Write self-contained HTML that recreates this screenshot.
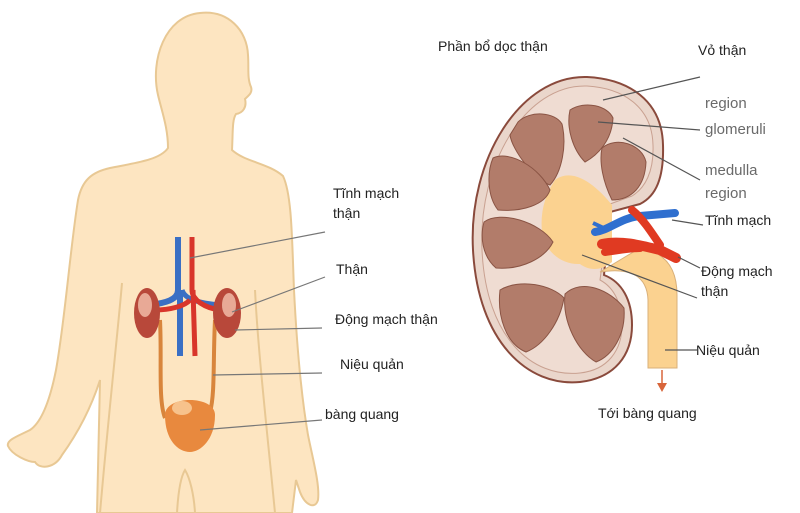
<!DOCTYPE html>
<html><head><meta charset="utf-8"><style>
html,body{margin:0;padding:0;background:#fff}
svg{display:block}
text{font-family:"Liberation Sans",sans-serif;font-size:14px;fill:#222}
.g{fill:#6a6a6a;font-size:15px}
</style></head><body>
<svg width="800" height="513" viewBox="0 0 800 513" xmlns="http://www.w3.org/2000/svg">
<rect width="800" height="513" fill="#fff"/>
<!-- body -->
<path d="M200,13 C228,10 247,30 248,55 C249,68 247,78 251,87 C253,93 248,96 245,99 C247,107 243,113 236,114 C232,120 233,132 232,150 C245,162 268,163 283,176 C292,195 292,240 294,290 C297,350 302,400 308,435 C313,460 320,485 318,500 C315,510 305,505 300,492 L296,480 L292,513 L97,513 L100,380 C92,405 80,430 62,455 C55,468 40,470 35,462 C28,462 12,455 8,446 C6,440 18,436 30,430 C42,422 50,400 56,370 C65,320 70,250 78,200 C82,180 92,172 110,168 C135,163 160,160 168,148 C168,128 162,112 158,95 C150,60 165,16 200,13 Z" fill="#fde5c1" stroke="#e8c894" stroke-width="2"/>
<path d="M122,283 C118,330 108,420 100,513 M255,290 C258,350 266,420 275,513" stroke="#e8c894" stroke-width="2" fill="none"/>
<path d="M177,513 C178,495 180,478 185,470 C190,478 194,495 195,513" stroke="#e8c894" stroke-width="2" fill="none"/>
<!-- vessels left -->
<path d="M178,237 L178,290 C178,300 165,303 150,305" stroke="#3a6fc4" stroke-width="6" fill="none"/>
<path d="M182,290 C185,300 200,303 220,305" stroke="#3a6fc4" stroke-width="5" fill="none"/>
<path d="M180,290 L180,356" stroke="#3a6fc4" stroke-width="6" fill="none"/>
<path d="M192,237 L192,290 C192,300 205,308 220,310 M190,300 C185,306 170,310 155,310 M193,290 L195,356" stroke="#d8352b" stroke-width="5" fill="none"/>
<path d="M160,320 C162,360 158,400 165,418 M215,320 C213,360 215,395 210,412" stroke="#d8853c" stroke-width="4" fill="none"/>
<ellipse cx="147" cy="313" rx="13" ry="25" fill="#b8483a"/>
<ellipse cx="145" cy="305" rx="7" ry="12" fill="#e8a996"/>
<ellipse cx="227" cy="313" rx="14" ry="25" fill="#b8483a"/>
<ellipse cx="229" cy="305" rx="7" ry="12" fill="#e8a996"/>
<path d="M165,415 C165,395 215,395 215,415 C215,440 200,452 190,452 C178,452 165,440 165,415 Z" fill="#e8893e"/>
<ellipse cx="182" cy="408" rx="10" ry="7" fill="#f7c28c"/>
<!-- left leader lines -->
<g stroke="#777" stroke-width="1.2">
<line x1="325" y1="232" x2="190" y2="258"/>
<line x1="325" y1="277" x2="232" y2="312"/>
<line x1="322" y1="328" x2="235" y2="330"/>
<line x1="322" y1="373" x2="213" y2="375"/>
<line x1="322" y1="420" x2="200" y2="430"/>
</g>
<text x="333" y="198">Tĩnh mạch</text>
<text x="333" y="218">thận</text>
<text x="336" y="274">Thận</text>
<text x="335" y="324">Động mạch thận</text>
<text x="340" y="369">Niệu quản</text>
<text x="325" y="419">bàng quang</text>
<!-- kidney right -->
<path d="M587,77 C628,79 662,100 663,145 C664,178 656,196 640,204 L610,212 L604,275 C622,282 632,300 632,325 C632,355 615,378 580,382 C528,387 478,342 473,250 C468,160 520,75 587,77 Z" fill="#ead6cb" stroke="#8a4a3c" stroke-width="2"/>
<path d="M587,86 C622,88 652,106 653,145 C654,172 645,188 632,196 L610,204 L600,280 C615,288 622,305 622,325 C622,350 608,370 580,373 C532,378 486,338 482,250 C478,165 525,84 587,86 Z" fill="#efdcd2" stroke="#c9a191" stroke-width="1"/>
<path d="M555,180 C575,165 600,190 612,205 L612,262 C600,272 588,270 580,264 C562,265 545,252 542,232 C540,212 545,195 555,180 Z" fill="#fbd290"/>
<g fill="#b27c6a" stroke="#8a5444" stroke-width="1">
<path d="M518,122 C530,110 555,112 562,124 C567,145 562,172 550,185 C535,180 512,150 510,135 Z"/>
<path d="M570,110 C585,100 608,106 613,118 C612,140 598,155 585,162 C573,150 566,128 570,110 Z"/>
<path d="M602,148 C616,136 642,144 646,162 C645,186 632,200 612,200 C603,182 599,162 602,148 Z"/>
<path d="M493,158 C510,150 540,168 550,190 C545,205 522,212 498,210 C487,196 487,172 493,158 Z"/>
<path d="M484,222 C500,210 540,222 553,242 C545,258 522,270 496,268 C482,256 480,236 484,222 Z"/>
<path d="M500,290 C520,278 552,285 564,298 C560,322 544,345 526,352 C506,344 497,316 500,290 Z"/>
<path d="M565,294 C582,278 610,290 624,308 C626,335 612,356 596,362 C578,352 562,322 565,294 Z"/>
</g>
<!-- ureter -->
<path d="M600,272 C625,268 647,272 648,300 L648,368 L677,368 L677,295 C677,268 665,252 640,248 Z" fill="#fbd290" stroke="#d9b07a" stroke-width="1"/>
<!-- vessels right -->
<path d="M595,232 C610,230 620,218 640,216 L675,213" stroke="#2f6fcf" stroke-width="8" fill="none" stroke-linecap="round"/>
<path d="M593,223 L608,230" stroke="#2f6fcf" stroke-width="4" fill="none"/>
<path d="M602,244 C620,240 640,245 660,250 L676,258" stroke="#e03a22" stroke-width="10" fill="none" stroke-linecap="round"/>
<path d="M605,252 C620,250 630,248 640,248 M632,210 C642,218 650,230 660,245" stroke="#e03a22" stroke-width="8" fill="none" stroke-linecap="round"/>
<path d="M662,370 L662,386" stroke="#d8653a" stroke-width="1.5"/>
<path d="M657,383 L667,383 L662,392 Z" fill="#d8653a"/>
<!-- right leaders -->
<g stroke="#555" stroke-width="1.2">
<line x1="700" y1="77" x2="603" y2="100"/>
<line x1="700" y1="130" x2="598" y2="122"/>
<line x1="700" y1="180" x2="623" y2="138"/>
<line x1="703" y1="225" x2="672" y2="220"/>
<line x1="700" y1="268" x2="678" y2="257"/>
<line x1="697" y1="298" x2="582" y2="255"/>
<line x1="697" y1="350" x2="665" y2="350"/>
</g>
<text x="438" y="51">Phần bổ dọc thận</text>
<text x="698" y="55">Vỏ thận</text>
<text class="g" x="705" y="108">region</text>
<text class="g" x="705" y="134">glomeruli</text>
<text class="g" x="705" y="175">medulla</text>
<text class="g" x="705" y="198">region</text>
<text x="705" y="225">Tĩnh mạch</text>
<text x="701" y="276">Động mạch</text>
<text x="701" y="296">thận</text>
<text x="696" y="355">Niệu quản</text>
<text x="598" y="418">Tới bàng quang</text>
</svg>
</body></html>
